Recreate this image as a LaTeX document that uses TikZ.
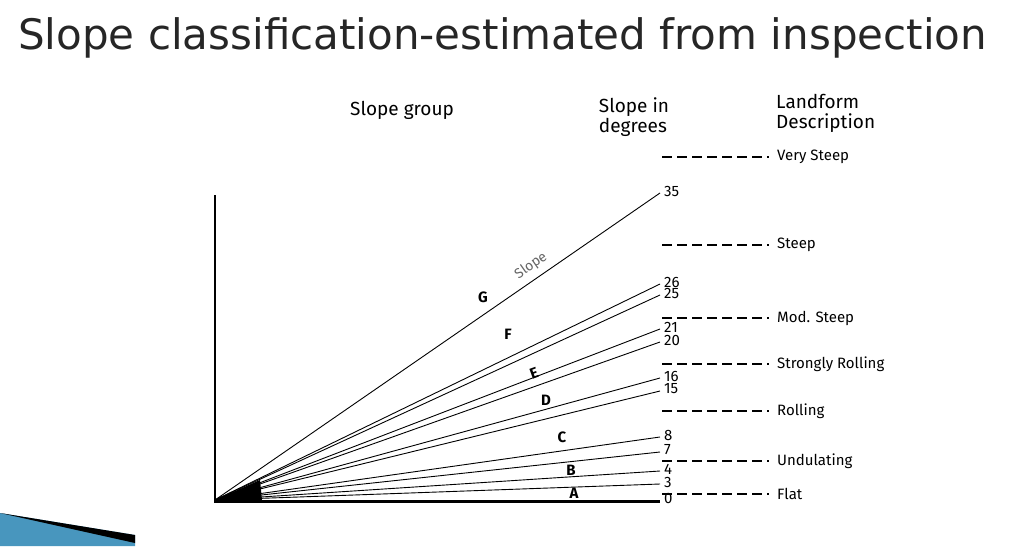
\documentclass[tikz,border=0pt]{standalone}
\usepackage{fontspec}
\setmainfont{DejaVu Sans}
\newfontfamily\diagfont{Fira Sans}
\definecolor{wedgeblue}{RGB}{72,150,190}
\begin{document}
\begin{tikzpicture}[
			x=1pt, y=-1pt,
			>=latex,
			num/.style={anchor=west, inner sep=0pt, font=\diagfont\fontsize{15}{15}\selectfont},
			landform/.style={anchor=west, inner sep=0pt, font=\diagfont\fontsize{15}{15}\selectfont},
			header/.style={align=left, inner sep=0pt, font=\diagfont\fontsize{19}{20}\selectfont},
			group/.style={inner sep=0pt, font=\diagfont\bfseries\fontsize{15}{15}\selectfont},
			slopeline/.style={line width=0.9pt},
			dashline/.style={dash pattern=on 10pt off 5pt, line width=1.2pt}
		]
		\useasboundingbox (0,0) rectangle (1030,546);

		% Title and corner decoration
		\node[anchor=west, inner sep=0pt, font=\fontsize{42}{42}\selectfont, text=black!85] (title) at (18,38) {Slope classification-estimated from inspection};
		\fill[wedgeblue] (0,513) -- (135,535) -- (135,546) -- (0,546) -- cycle;
		\fill[black] (0,513) -- (135,535) -- (135,543) -- cycle;

		% Headers
		\node[header, anchor=west] (hgroup) at (350,110) {Slope group};
		\node[header, anchor=center] (hdeg) at (634,117) {Slope in\\degrees};
		\node[header, anchor=west] (hland) at (776,113) {Landform\\Description};

		% Axes
		\coordinate (O) at (215,500);
		\coordinate (top) at (215,195);
		\draw[line width=1.2pt] (top) -- (215,502) -- (660,502);

		% Slope lines
		\foreach \deg/\y in {35/193, 26/284, 25/295, 21/329, 20/342, 16/378, 15/391, 8/437, 7/452, 4/471, 3/484, 0/500}{
			\node[num] (n\deg) at (664,\y-2) {\deg};
			\draw[slopeline] (O) -- (660,\y);
		}
		\fill[black] (O) -- (260,480) -- (262,500) -- cycle;

		% Landform classes
		\foreach \y/\txt [count=\i] in {157/Very Steep, 245/Steep, 318/Mod. Steep, 364/Strongly Rolling, 411/Rolling, 461/Undulating, 494/Flat}{
			\node[landform] (land\i) at (777,\y) {\txt};
			\draw[dashline] (662,\y) -- ([xshift=-8pt]land\i.west);
		}

		% Group letters
		\node[group] (G) at (483,297) {G};
		\node[font=\diagfont\fontsize{14}{14}\selectfont, text=black!60, rotate=35, inner sep=0pt] (slope) at (531,266) {Slope};
		\node[group] (F) at (508,334) {F};
		\node[group, rotate=20] (E) at (534,373) {E};
		\node[group] (D) at (546,400) {D};
		\node[group] (C) at (562,437) {C};
		\node[group] (B) at (571,470) {B};
		\node[group] (A) at (574,493) {A};

	\end{tikzpicture}
\end{document}
